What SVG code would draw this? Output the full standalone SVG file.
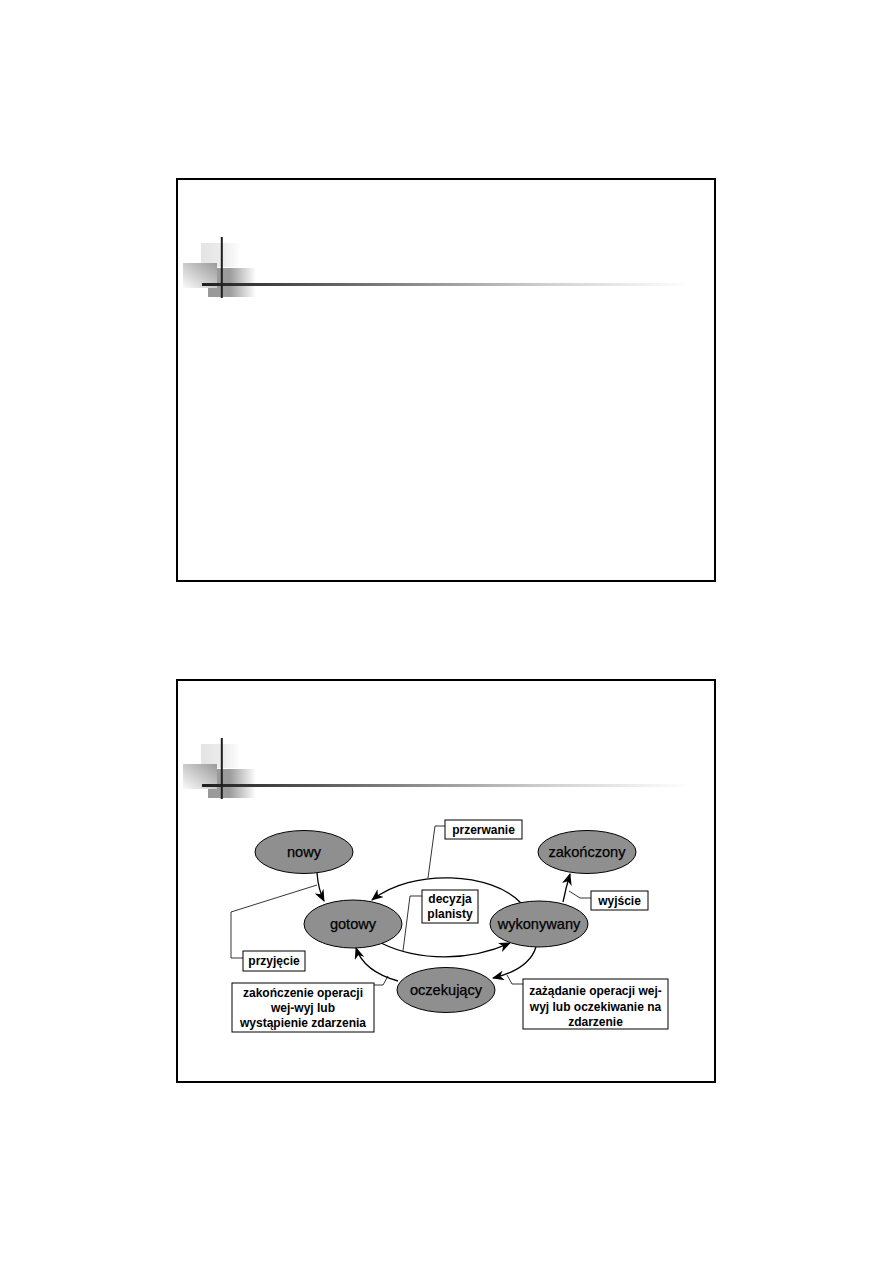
<svg xmlns="http://www.w3.org/2000/svg" width="893" height="1263" viewBox="0 0 893 1263">
<defs>
<style>
.frame{fill:none;stroke:#000;stroke-width:2}
.node ellipse{fill:#8f8f8f;stroke:#000;stroke-width:1}
.node text{font-family:"Liberation Sans",Arial,sans-serif;font-size:14.6px;fill:#000;text-anchor:middle;stroke:#000;stroke-width:0.25}
.lbl rect{fill:#fff;stroke:#000;stroke-width:1}
.lbl text{font-family:"Liberation Sans",Arial,sans-serif;font-size:12px;font-weight:bold;fill:#000;text-anchor:middle}
.arc{fill:none;stroke:#000;stroke-width:1.3}
.lead{fill:none;stroke:#000;stroke-width:0.8}
</style>
<marker id="ah" viewBox="0 0 12 10" refX="11" refY="5" markerWidth="12" markerHeight="10" markerUnits="userSpaceOnUse" orient="auto">
<path d="M0,0 L12,5 L0,10 L3.5,5 z" fill="#000"/>
</marker>
<linearGradient id="gA" x1="0" y1="0" x2="1" y2="0">
<stop offset="0" stop-color="#e4e4e4"/><stop offset="0.6" stop-color="#ececec"/><stop offset="1" stop-color="#fff"/>
</linearGradient>
<linearGradient id="gB" x1="1" y1="0" x2="0" y2="1">
<stop offset="0" stop-color="#9a9a9a"/><stop offset="1" stop-color="#fafafa"/>
</linearGradient>
<linearGradient id="gC" x1="0" y1="0" x2="1" y2="0">
<stop offset="0" stop-color="#999"/><stop offset="0.45" stop-color="#9c9c9c"/><stop offset="1" stop-color="#fff"/>
</linearGradient>
<linearGradient id="gL" x1="202" y1="0" x2="690" y2="0" gradientUnits="userSpaceOnUse">
<stop offset="0" stop-color="#1e1e1e"/><stop offset="0.35" stop-color="#777"/><stop offset="0.7" stop-color="#cfcfcf"/><stop offset="1" stop-color="#fff"/>
</linearGradient>
<g id="deco">
<rect x="201" y="243" width="39" height="24" fill="url(#gA)"/>
<rect x="208" y="268" width="48" height="29" fill="url(#gC)"/>
<rect x="183" y="263" width="34" height="25" fill="url(#gB)"/>
<rect x="202" y="283" width="488" height="3" fill="url(#gL)"/>
<rect x="220.8" y="237" width="2" height="61" fill="#1e1e1e"/>
</g>
</defs>

<g id="slide1">
<rect class="frame" x="177" y="179" width="538" height="402"/>
<use href="#deco"/>
</g>

<g id="slide2">
<rect class="frame" x="177" y="680" width="538" height="402"/>
<use href="#deco" transform="translate(0,501)"/>
</g>

<g id="connectors">
<path class="arc" d="M317,873 C318,886 320,893 324,901" marker-end="url(#ah)"/>
<path class="arc" d="M521,903 C492,872 412,868 372,900" marker-end="url(#ah)"/>
<path class="arc" d="M381,943 C420,962 470,961 510,943" marker-end="url(#ah)"/>
<path class="arc" d="M536,947 C531,963 514,973 493,978" marker-end="url(#ah)"/>
<path class="arc" d="M398,981 C380,976 362,966 356,948" marker-end="url(#ah)"/>
<path class="arc" d="M563,902 C565,892 567,884 570,874" marker-end="url(#ah)"/>
<polyline class="lead" points="445,826 435,826 428,878"/>
<polyline class="lead" points="422,896 410,896 403,951"/>
<polyline class="lead" points="591,898 580,898 569,891"/>
<polyline class="lead" points="243,958 231,958 231,912 317,885"/>
<polyline class="lead" points="374,985 383,985 388,976"/>
<polyline class="lead" points="523,984 512,984 507,975"/>
</g>

<g id="nowy" class="node"><ellipse cx="304" cy="852" rx="49" ry="21.5"/><text x="304" y="857">nowy</text></g>
<g id="zakonczony" class="node"><ellipse cx="587" cy="852" rx="49" ry="21.5"/><text x="587" y="857">zakończony</text></g>
<g id="gotowy" class="node"><ellipse cx="353" cy="924" rx="49" ry="24"/><text x="353" y="929">gotowy</text></g>
<g id="wykonywany" class="node"><ellipse cx="539" cy="924" rx="49" ry="23"/><text x="539" y="929">wykonywany</text></g>
<g id="oczekujacy" class="node"><ellipse cx="446" cy="990" rx="49" ry="22.5"/><text x="446" y="995">oczekujący</text></g>

<g id="lbl-przerwanie" class="lbl"><rect x="445" y="820" width="77" height="19"/><text x="483.5" y="834">przerwanie</text></g>
<g id="lbl-decyzja" class="lbl"><rect x="422" y="890" width="56" height="33"/><text x="450" y="903">decyzja</text><text x="450" y="918">planisty</text></g>
<g id="lbl-wyjscie" class="lbl"><rect x="591" y="891" width="57" height="19"/><text x="619.5" y="905">wyjście</text></g>
<g id="lbl-przyjecie" class="lbl"><rect x="243" y="951" width="62" height="20"/><text x="274" y="965">przyjęcie</text></g>
<g id="lbl-zakonczenie" class="lbl"><rect x="232" y="983" width="142" height="49"/><text x="303" y="997">zakończenie operacji</text><text x="303" y="1012">wej-wyj lub</text><text x="303" y="1027">wystąpienie zdarzenia</text></g>
<g id="lbl-zazadanie" class="lbl"><rect x="523" y="979" width="145" height="50"/><text x="595.5" y="995">zażądanie operacji wej-</text><text x="595.5" y="1011">wyj lub oczekiwanie na</text><text x="595.5" y="1026">zdarzenie</text></g>
</svg>
